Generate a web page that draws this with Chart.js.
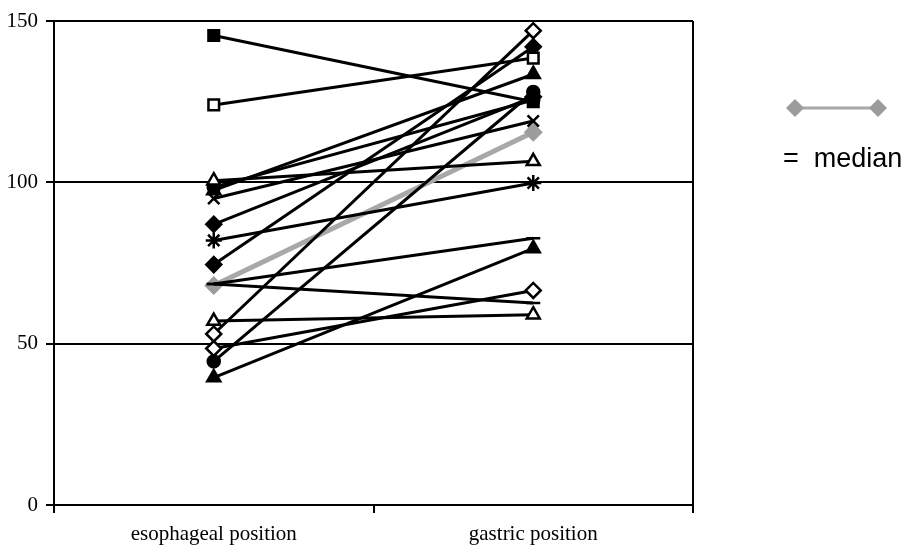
<!DOCTYPE html>
<html>
<head>
<meta charset="utf-8">
<script src="https://cdn.jsdelivr.net/npm/chart.js@4"></script>
<style>
    html, body { margin: 0; padding: 0; background: #fff; }
    #wrap { position: relative; width: 904px; height: 547px; }
    #legendText {
        position: absolute; left: 783px; top: 143px;
        font-family: "Liberation Sans", Arial, sans-serif; font-size: 27px; color: #000;
        white-space: pre;
    }
</style>
</head>
<body>
<div id="wrap">
    <canvas id="chart" width="904" height="547"></canvas>
    <div id="legendText">=  median</div>
</div>
<script>
// Data
const categories = ['esophageal position', 'gastric position'];
const esophageal = [145.5, 124, 100.5, 97.5, 98.5, 95, 87, 82, 74.5, 68.5, 68.5, 57, 53, 48.5, 44.5, 39.5];
const gastric    = [125, 138.5, 106.5, 133.5, 125.5, 119, 126.5, 99.8, 142, 82.7, 62.6, 59, 147, 66.5, 128, 79.5];
const medianValues = [68, 115.5];
const yTicks = [0, 50, 100, 150];

// Marker style per subject line
const markerShapes = ['rect', 'rect', 'triangle', 'triangle', 'circle', 'crossRot', 'rectRot', 'star',
                      'rectRot', 'line', 'line', 'triangle', 'rectRot', 'rectRot', 'circle', 'triangle'];
const markerFilled = [true, false, false, true, true, true, true, true,
                      true, true, true, false, false, false, true, true];
const markerSize = { rect: 7.5, triangle: 7.5, circle: 6, crossRot: 8, rectRot: 7.5, star: 8, line: 7 };

const datasets = esophageal.map((v, i) => ({
    label: 'subject ' + (i + 1),
    data: [v, gastric[i]],
    borderColor: '#000',
    borderWidth: 3,
    pointStyle: markerShapes[i],
    pointRadius: markerSize[markerShapes[i]],
    pointBackgroundColor: markerFilled[i] ? '#000' : '#fff',
    pointBorderColor: '#000',
    pointBorderWidth: 2.5,
    tension: 0
}));

// median drawn last in the list so it sits under the black lines
datasets.push({
    label: 'median',
    data: medianValues,
    borderColor: '#a8a8a8',
    borderWidth: 5,
    pointStyle: 'rectRot',
    pointRadius: 9,
    pointBackgroundColor: '#9c9c9c',
    pointBorderColor: '#9c9c9c',
    pointBorderWidth: 1,
    tension: 0
});

const medianKey = {
    id: 'medianKey',
    afterDraw(chart) {
        const ctx = chart.ctx;
        const y = 108, x1 = 795, x2 = 878;
        ctx.save();
        ctx.strokeStyle = '#a8a8a8';
        ctx.lineWidth = 3;
        ctx.beginPath();
        ctx.moveTo(x1, y);
        ctx.lineTo(x2, y);
        ctx.stroke();
        ctx.fillStyle = '#9c9c9c';
        [x1, x2].forEach(x => {
            ctx.beginPath();
            ctx.moveTo(x - 9, y);
            ctx.lineTo(x, y - 9);
            ctx.lineTo(x + 9, y);
            ctx.lineTo(x, y + 9);
            ctx.closePath();
            ctx.fill();
        });
        ctx.restore();
    }
};

new Chart(document.getElementById('chart'), {
    type: 'line',
    data: { labels: categories, datasets },
    options: {
        responsive: false,
        animation: false,
        layout: { padding: { left: 0, top: 21, right: 211, bottom: 0 } },
        plugins: { legend: { display: false }, tooltip: { enabled: false } },
        scales: {
            x: {
                offset: true,
                afterFit: s => { s.height = 42; },
                grid: {
                    offset: true,
                    color: ctx => ctx.index === 1 ? 'rgba(0,0,0,0)' : '#000',
                    tickColor: '#000',
                    lineWidth: 2,
                    tickLength: 8
                },
                border: { color: '#000', width: 2 },
                ticks: {
                    color: '#000',
                    padding: 9,
                    font: { family: '"Liberation Serif", "Times New Roman", serif', size: 21 }
                }
            },
            y: {
                min: 0,
                max: 150,
                afterFit: s => { s.width = 54; },
                afterBuildTicks: s => { s.ticks = yTicks.map(v => ({ value: v })); },
                grid: { color: '#000', lineWidth: 2, tickLength: 8 },
                border: { color: '#000', width: 2 },
                ticks: {
                    color: '#000',
                    padding: 8,
                    font: { family: '"Liberation Serif", "Times New Roman", serif', size: 21 }
                }
            }
        }
    },
    plugins: [medianKey]
});
</script>
</body>
</html>
